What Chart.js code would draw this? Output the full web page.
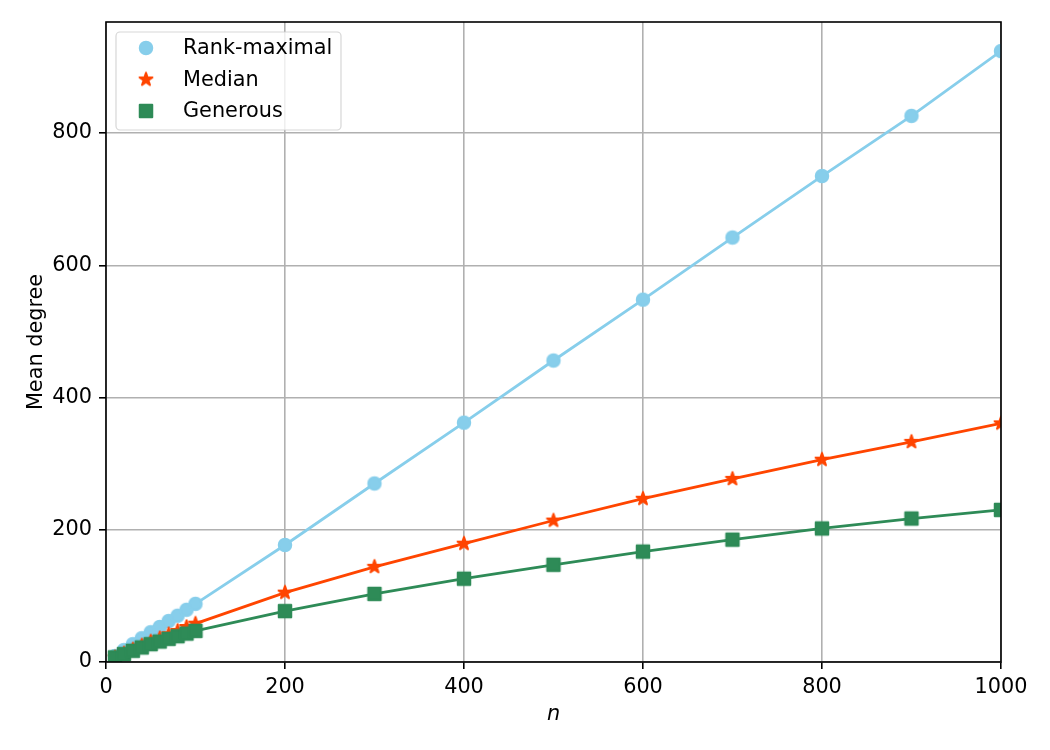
<!DOCTYPE html>
<html>
<head>
<meta charset="utf-8">
<script src="https://cdn.jsdelivr.net/npm/chart.js@4.4.1/dist/chart.umd.min.js"></script>
<style>
  html, body { margin: 0; padding: 0; background: #fff; }
</style>
</head>
<body>
<canvas id="chart" width="1050" height="750"></canvas>
<script>
// Data
const nValues = [10, 20, 30, 40, 50, 60, 70, 80, 90, 100, 200, 300, 400, 500, 600, 700, 800, 900, 1000];
const rankMaximal = [9, 18, 27, 36, 45, 53, 62, 70, 79, 88, 177, 270, 362, 456, 548, 642, 735, 826, 924];
const median = [7, 13, 19, 25, 31, 36, 42, 47, 53, 58, 105, 144, 179, 214, 247, 277, 306, 333, 361];
const generous = [7, 12, 17, 22, 27, 31, 35, 39, 43, 47, 77, 103, 126, 147, 167, 185, 202, 217, 230];
const xTicks = [0, 200, 400, 600, 800, 1000];
const yTicks = [0, 200, 400, 600, 800];

const FONT = '"DejaVu Sans", sans-serif';
const FS = 20.8;

// matplotlib-like filled markers
function makeMarker(kind, color) {
  const c = document.createElement('canvas');
  c.width = 20;
  c.height = 20;
  const ctx = c.getContext('2d');
  ctx.fillStyle = color;
  ctx.strokeStyle = color;
  ctx.lineWidth = 2;
  ctx.lineJoin = 'round';
  ctx.beginPath();
  if (kind === 'circle') {
    ctx.arc(10, 10, 6.25, 0, Math.PI * 2);
  } else if (kind === 'square') {
    ctx.rect(10 - 6.25, 10 - 6.25, 12.5, 12.5);
  } else {
    for (let i = 0; i < 10; i++) {
      const r = i % 2 ? 6.8 * 0.382 : 6.8;
      const a = -Math.PI / 2 + i * Math.PI / 5;
      const px = 10 + r * Math.cos(a);
      const py = 10 + r * Math.sin(a);
      if (i === 0) ctx.moveTo(px, py); else ctx.lineTo(px, py);
    }
  }
  ctx.closePath();
  ctx.fill();
  ctx.stroke();
  return c;
}

const colors = { rank: '#87CEEB', median: '#FF4500', generous: '#2E8B57' };
const markers = {
  rank: makeMarker('circle', colors.rank),
  median: makeMarker('star', colors.median),
  generous: makeMarker('square', colors.generous)
};

function toPoints(values) {
  return nValues.map((n, i) => ({ x: n, y: values[i] }));
}

function series(label, values, key, order) {
  return {
    label: label,
    data: toPoints(values),
    borderColor: colors[key],
    backgroundColor: colors[key],
    borderWidth: 2.8,
    pointStyle: markers[key],
    pointRadius: 7,
    pointHoverRadius: 7,
    showLine: true,
    clip: 0,
    order: order
  };
}

// frame + legend box drawn over the data, like matplotlib
const frameAndLegend = {
  id: 'frameAndLegend',
  afterDatasetsDraw(chart) {
    const { ctx, chartArea: a } = chart;
    ctx.save();
    ctx.strokeStyle = '#000';
    ctx.lineWidth = 1.6;
    ctx.strokeRect(a.left, a.top, a.right - a.left, a.bottom - a.top);

    // legend
    const bx = a.left + 10, by = a.top + 10, bw = 225, bh = 98, r = 4;
    ctx.beginPath();
    ctx.moveTo(bx + r, by);
    ctx.arcTo(bx + bw, by, bx + bw, by + bh, r);
    ctx.arcTo(bx + bw, by + bh, bx, by + bh, r);
    ctx.arcTo(bx, by + bh, bx, by, r);
    ctx.arcTo(bx, by, bx + bw, by, r);
    ctx.closePath();
    ctx.fillStyle = 'rgba(255,255,255,0.8)';
    ctx.fill();
    ctx.strokeStyle = 'rgba(204,204,204,0.8)';
    ctx.lineWidth = 1.2;
    ctx.stroke();

    const rows = [
      ['Rank-maximal', markers.rank],
      ['Median', markers.median],
      ['Generous', markers.generous]
    ];
    ctx.font = FS + 'px ' + FONT;
    ctx.fillStyle = '#000';
    ctx.textBaseline = 'middle';
    ctx.textAlign = 'left';
    rows.forEach((row, i) => {
      const cy = by + 16 + i * 31.5;
      ctx.drawImage(row[1], bx + 30 - 10, cy - 10);
      ctx.fillText(row[0], bx + 67, cy + 1);
    });
    ctx.restore();
  }
};

new Chart(document.getElementById('chart'), {
  type: 'scatter',
  data: {
    datasets: [
      series('Rank-maximal', rankMaximal, 'rank', 3),
      series('Median', median, 'median', 2),
      series('Generous', generous, 'generous', 1)
    ]
  },
  options: {
    responsive: false,
    animation: false,
    devicePixelRatio: 1,
    layout: { padding: { left: 0, right: 49, top: 22, bottom: 0 } },
    plugins: {
      legend: { display: false },
      tooltip: { enabled: false }
    },
    scales: {
      x: {
        type: 'linear',
        min: 0,
        max: 1000,
        afterFit(scale) { scale.height = 88; },
        afterBuildTicks(scale) { scale.ticks = xTicks.map(v => ({ value: v })); },
        grid: {
          color: '#b0b0b0',
          lineWidth: 1.6,
          tickColor: '#000',
          tickLength: 7,
          tickWidth: 1.6
        },
        border: { display: false },
        ticks: {
          color: '#000',
          padding: 6,
          maxRotation: 0,
          callback: v => String(v),
          font: { family: FONT, size: FS }
        },
        title: {
          display: true,
          text: 'n',
          color: '#000',
          padding: { top: 0, bottom: 23 },
          font: { family: FONT, size: FS, style: 'italic' }
        }
      },
      y: {
        type: 'linear',
        min: 0,
        max: 968,
        afterFit(scale) { scale.width = 106; },
        afterBuildTicks(scale) { scale.ticks = yTicks.map(v => ({ value: v })); },
        grid: {
          color: '#b0b0b0',
          lineWidth: 1.6,
          tickColor: '#000',
          tickLength: 7,
          tickWidth: 1.6
        },
        border: { display: false },
        ticks: {
          color: '#000',
          padding: 7,
          callback: v => String(v),
          font: { family: FONT, size: FS }
        },
        title: {
          display: true,
          text: 'Mean degree',
          color: '#000',
          padding: { top: 24, bottom: 0 },
          font: { family: FONT, size: FS }
        }
      }
    }
  },
  plugins: [frameAndLegend]
});
</script>
</body>
</html>
